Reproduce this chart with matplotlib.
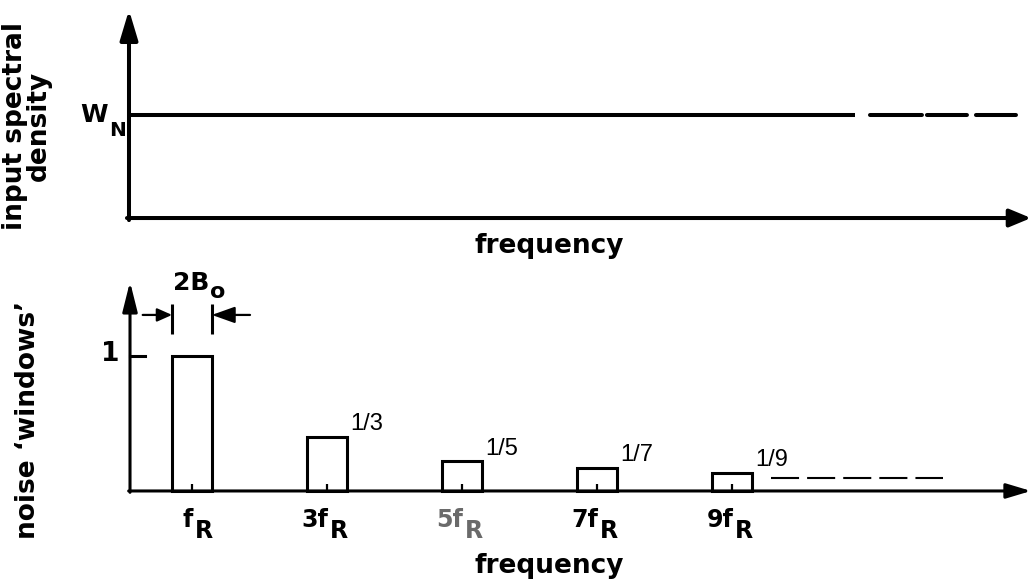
import matplotlib
matplotlib.use('Agg')
import matplotlib.pyplot as plt

plt.rcParams['lines.scale_dashes'] = False

# lower panel: noise "windows" at the odd harmonics of f_R
harmonics = [1, 3, 5, 7, 9]
window_heights = [1.0, 0.40, 0.22, 0.17, 0.133]
tick_prefix = ['', '3', '5', '7', '9']
ratio_labels = [None, '1/3', '1/5', '1/7', '1/9']
tick_colors = ['black', 'black', '#6a6a6a', 'black', 'black']
bar_width = 0.59  # 2B_o

# upper panel: flat input noise level
wn_level = 1.0
wn_solid_end = 10.82
wn_dash_span = (11.04, 13.21)
tail_dash_span = (9.58, 12.13)
tail_level = 0.096

XLIM = (-1.844, 13.489)
X0_TOP = 0.067
X0_BOT = 0.082
X_END = 13.43

BOLD = dict(family='DejaVu Sans', fontweight='bold', color='black')

fig = plt.figure(figsize=(10.35, 5.86), dpi=100)
top = fig.add_axes([0, 0, 1, 1])
bot = fig.add_axes([0, 0, 1, 1])
for ax in (top, bot):
    ax.set_xlim(*XLIM)
    ax.axis('off')
    ax.patch.set_alpha(0)
top.set_ylim(-3.573, 2.117)
bot.set_ylim(-0.704, 3.637)


def arrow(ax, start, tip, lw, hl, hw):
    ax.annotate('', xy=tip, xytext=start,
                arrowprops=dict(arrowstyle=f'-|>,head_length={hl},head_width={hw}',
                                lw=lw, color='black', mutation_scale=1,
                                shrinkA=0, shrinkB=0))


# ---- upper panel ----
arrow(top, (X0_TOP, -0.02), (X0_TOP, 2.02), 2.9, 18, 5.4)
arrow(top, (X0_TOP - 0.03, 0), (X_END, 0), 2.9, 13, 5.4)
top.plot([X0_TOP, wn_solid_end], [wn_level, wn_level], color='black', lw=2.9,
         solid_capstyle='butt')
top.plot(list(wn_dash_span), [wn_level, wn_level], color='black', lw=2.9,
         linestyle=(0, (37.4, 3.6, 28.8, 6.5, 28.8, 50)), dash_capstyle='round')
top.text(-0.24, wn_level - 0.07, 'W', ha='right', va='baseline', fontsize=18, **BOLD)
top.text(-0.23, wn_level - 0.2, 'N', ha='left', va='baseline', fontsize=14.5, **BOLD)
top.text(6.3, -0.34, 'frequency', ha='center', va='baseline', fontsize=19, **BOLD)
fig.text(0.026, 0.785, 'input spectral\ndensity', rotation=90, ha='center',
         va='center', multialignment='center', linespacing=0.9, fontsize=19, **BOLD)

# ---- lower panel ----
arrow(bot, (X0_BOT, -0.01), (X0_BOT, 1.55), 2.2, 18, 4.5)
arrow(bot, (X0_BOT - 0.02, 0), (X_END, 0), 2.2, 15, 4.5)
bot.plot([X0_BOT, 0.30], [1, 1], color='black', lw=2.2)
bot.text(-0.08, 1.015, '1', ha='right', va='center', fontsize=19, **BOLD)

bot.bar(harmonics, window_heights, width=bar_width, fill=False,
        edgecolor='black', linewidth=2.2, zorder=3)
bot.vlines(harmonics, 0, 0.055, color='black', lw=1.6)

for n, h, pre, rl, col in zip(harmonics, window_heights, tick_prefix,
                               ratio_labels, tick_colors):
    bot.text(n + 0.02, -0.268, pre + 'f', ha='right', va='baseline',
             fontsize=17, family='DejaVu Sans', fontweight='bold', color=col)
    bot.text(n + 0.05, -0.35, 'R', ha='left', va='baseline',
             fontsize=17, family='DejaVu Sans', fontweight='bold', color=col)
    if rl:
        bot.text(n + bar_width / 2 + 0.05, h + 0.05, rl, ha='left', va='baseline',
                 fontsize=17, family='Liberation Sans', color='black')

bot.plot(list(tail_dash_span), [tail_level, tail_level], color='black', lw=1.5,
         linestyle=(0, (20.2, 5.8)))

# 2B_o bandwidth marker
left_edge = harmonics[0] - bar_width / 2
right_edge = harmonics[0] + bar_width / 2
bot.vlines([left_edge, right_edge], 1.163, 1.385, color='black', lw=2.2)
arrow(bot, (0.27, 1.304), (left_edge, 1.304), 1.6, 9, 4)
arrow(bot, (1.86, 1.304), (right_edge, 1.304), 1.6, 14, 5)
bot.text(0.72, 1.489, '2B', ha='left', va='baseline', fontsize=18, **BOLD)
bot.text(1.26, 1.43, 'o', ha='left', va='baseline', fontsize=16, **BOLD)

fig.text(0.027, 0.283, 'noise \u2018windows\u2019', rotation=90, ha='center',
         va='center', fontsize=19, **BOLD)
bot.text(6.3, -0.607, 'frequency', ha='center', va='baseline', fontsize=19, **BOLD)

fig.savefig('out.png', dpi=100, facecolor='white')
